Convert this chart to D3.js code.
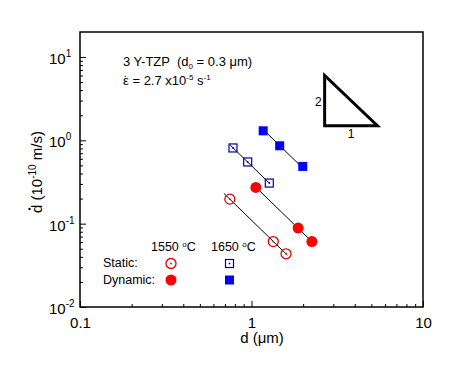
<!DOCTYPE html>
<html>
<head>
<meta charset="utf-8">
<script src="https://cdn.jsdelivr.net/npm/d3@7"></script>
<style>
body{margin:0;background:#fff;}
text{font-family:"Liberation Sans",Arial,sans-serif;fill:#000;white-space:pre;}
</style>
</head>
<body>
<svg id="chart" width="468" height="378"></svg>
<script>
// 数据 (d in um, ddot in 1e-10 m/s)
var staticD1550=[0.748,1.34,1.59];
var staticV1550=[0.197,0.061,0.0435];
var dynD1550=[1.06,1.87,2.25];
var dynV1550=[0.272,0.0886,0.061];
var staticD1650=[0.78,0.95,1.27];
var staticV1650=[0.81,0.55,0.307];
var dynD1650=[1.17,1.46,1.99];
var dynV1650=[1.30,0.86,0.486];
// 拟合线 x 范围, 斜率 -2
var fitRanges=[[0.69,1.62],[1.02,2.3],[0.75,1.28],[1.12,2.0]];
var fitSlope=-2;
// 坐标轴
var xMajor=[0.1,1,10];
var xLabels=["0.1","1","10"];
var yMajor=[0.01,0.1,1,10];
var yExp=["-2","-1","0","1"];
// 斜率三角形 (数据坐标)
var triX=[2.67,5.42];
var triY=[1.5,6.0];

var svg=d3.select("#chart");
var L=80,R=423,T=32,B=307;
var x=d3.scaleLog().domain([0.1,10]).range([L,R]);
var y=d3.scaleLog().domain([0.01,Math.pow(10,1.3)]).range([B,T]);

function minors(lo,hi){
    var out=[];
    for(var e=lo;e<hi;e++)
        for(var k=2;k<10;k++){
            var v=k*Math.pow(10,e);
            out.push(v);
        }
    return out;
}

//x轴
svg.append("g").attr("transform","translate(0,"+B+")")
    .call(d3.axisBottom(x).tickValues(minors(-1,1)).tickSize(-3).tickFormat(""))
    .call(function(g){g.select(".domain").remove();});
svg.append("g").attr("transform","translate(0,"+B+")")
    .call(d3.axisBottom(x).tickValues(xMajor).tickSize(-6).tickPadding(10)
        .tickFormat(function(d,i){return xLabels[i];}))
    .call(function(g){
        g.select(".domain").remove();
        g.selectAll("text").attr("font-size","15px").attr("font-family","Liberation Sans, Arial, sans-serif");
    });

//y轴
var ymin=minors(-2,1).filter(function(v){return v<y.domain()[1];});
svg.append("g").attr("transform","translate("+L+",0)")
    .call(d3.axisLeft(y).tickValues(ymin).tickSize(-3).tickFormat(""))
    .call(function(g){g.select(".domain").remove();});
svg.append("g").attr("transform","translate("+L+",0)")
    .call(d3.axisLeft(y).tickValues(yMajor).tickSize(-6).tickFormat(""))
    .call(function(g){g.select(".domain").remove();});
yMajor.forEach(function(v,i){
    var t=svg.append("text").attr("x",49).attr("y",y(v)+7).attr("font-size","15px");
    t.append("tspan").text("10");
    t.append("tspan").attr("dy",-7).attr("font-size","10px").text(yExp[i]);
});

svg.selectAll(".tick line").attr("stroke","#000").attr("stroke-width",1);

//边框
svg.append("rect").attr("x",L).attr("y",T).attr("width",R-L).attr("height",B-T)
    .attr("fill","none").attr("stroke","#000").attr("stroke-width",1.5);

//轴标题
var xl=svg.append("text").attr("x",262).attr("y",343).attr("text-anchor","middle").attr("font-size","15px");
xl.text("d (\u03bcm)");
var ylg=svg.append("g").attr("transform","translate(42,172) rotate(-90)");
var yl=ylg.append("text").attr("text-anchor","middle").attr("font-size","15px");
yl.append("tspan").text("d (10");
yl.append("tspan").attr("dy",-6).attr("font-size","10px").text("-10");
yl.append("tspan").attr("dy",6).text(" m/s)");
// d 上的点
var ylen=yl.node().getComputedTextLength();
ylg.append("circle").attr("cx",-ylen/2+4.0).attr("cy",-12.5).attr("r",1.2).attr("fill","#000");

//注释
var t1=svg.append("text").attr("x",123).attr("y",66).attr("font-size","13px");
t1.append("tspan").text("3 Y-TZP  (d");
t1.append("tspan").attr("dy",3).attr("font-size","8px").text("0");
t1.append("tspan").attr("dy",-3).text(" = 0.3 \u03bcm)");
var t2=svg.append("text").attr("x",123).attr("y",85).attr("font-size","13px");
t2.append("tspan").text("\u03b5");
t2.append("tspan").attr("dx",-5).text("\u02d9");
t2.append("tspan").attr("dx",0.7).text(" = 2.7 x10");
t2.append("tspan").attr("dy",-5).attr("font-size","8px").text("-5");
t2.append("tspan").attr("dy",5).text(" s");
t2.append("tspan").attr("dy",-5).attr("font-size","8px").text("-1");

//斜率三角形
var tri=[[triX[0],triY[1]],[triX[0],triY[0]],[triX[1],triY[0]]];
svg.append("path")
    .attr("d",d3.line().x(function(d){return x(d[0]);}).y(function(d){return y(d[1]);})(tri)+"Z")
    .attr("fill","none").attr("stroke","#000").attr("stroke-width",3).attr("stroke-linejoin","miter");
svg.append("text").attr("x",x(triX[0])-3).attr("y",(y(triY[0])+y(triY[1]))/2+5)
    .attr("text-anchor","end").attr("font-size","12px").text("2");
svg.append("text").attr("x",(x(triX[0])+x(triX[1]))/2).attr("y",y(triY[0])+12)
    .attr("text-anchor","middle").attr("font-size","12px").text("1");

//拟合线
var series=[[staticD1550,staticV1550],[dynD1550,dynV1550],[staticD1650,staticV1650],[dynD1650,dynV1650]];
series.forEach(function(s,i){
    var la=0;
    for(var k=0;k<s[0].length;k++)
        la+=Math.log10(s[1][k])-fitSlope*Math.log10(s[0][k]);
    la/=s[0].length;
    var r=fitRanges[i];
    var pts=r.map(function(d){return [d,Math.pow(10,la+fitSlope*Math.log10(d))];});
    svg.append("line")
        .attr("x1",x(pts[0][0])).attr("y1",y(pts[0][1]))
        .attr("x2",x(pts[1][0])).attr("y2",y(pts[1][1]))
        .attr("stroke","#000").attr("stroke-width",1);
});

//标记
function openCircle(cx,cy){
    svg.append("circle").attr("cx",cx).attr("cy",cy).attr("r",5)
        .attr("fill","none").attr("stroke","#e00000").attr("stroke-width",1.3);
    svg.append("circle").attr("cx",cx).attr("cy",cy).attr("r",0.9).attr("fill","#e00000");
}
function fillCircle(cx,cy){
    svg.append("circle").attr("cx",cx).attr("cy",cy).attr("r",5.5).attr("fill","#ff0000");
}
function openSquare(cx,cy){
    svg.append("rect").attr("x",cx-4).attr("y",cy-4).attr("width",8).attr("height",8)
        .attr("fill","none").attr("stroke","#0000a0").attr("stroke-width",1.2);
    svg.append("rect").attr("x",cx-0.8).attr("y",cy-0.8).attr("width",1.6).attr("height",1.6).attr("fill","#0000a0");
}
function fillSquare(cx,cy){
    svg.append("rect").attr("x",cx-4.5).attr("y",cy-4.5).attr("width",9).attr("height",9).attr("fill","#0000ff");
}
var markFns=[openCircle,fillCircle,openSquare,fillSquare];
series.forEach(function(s,i){
    for(var k=0;k<s[0].length;k++)
        markFns[i](x(s[0][k]),y(s[1][k]));
});

//图例
function degText(tx,ty,num){
    var t=svg.append("text").attr("x",tx).attr("y",ty).attr("font-size","12.5px");
    t.append("tspan").text(num+" ");
    t.append("tspan").attr("dy",-4).attr("font-size","8px").text("o");
    t.append("tspan").attr("dy",4).text("C");
}
degText(151,251,"1550");
degText(211,251,"1650");
svg.append("text").attr("x",103).attr("y",267).attr("font-size","12.5px").text("Static:");
svg.append("text").attr("x",103).attr("y",284).attr("font-size","12.5px").text("Dynamic:");
openCircle(171,263.5);
fillCircle(171,280);
openSquare(229.5,263.5);
fillSquare(229.5,280);
</script>
</body>
</html>
